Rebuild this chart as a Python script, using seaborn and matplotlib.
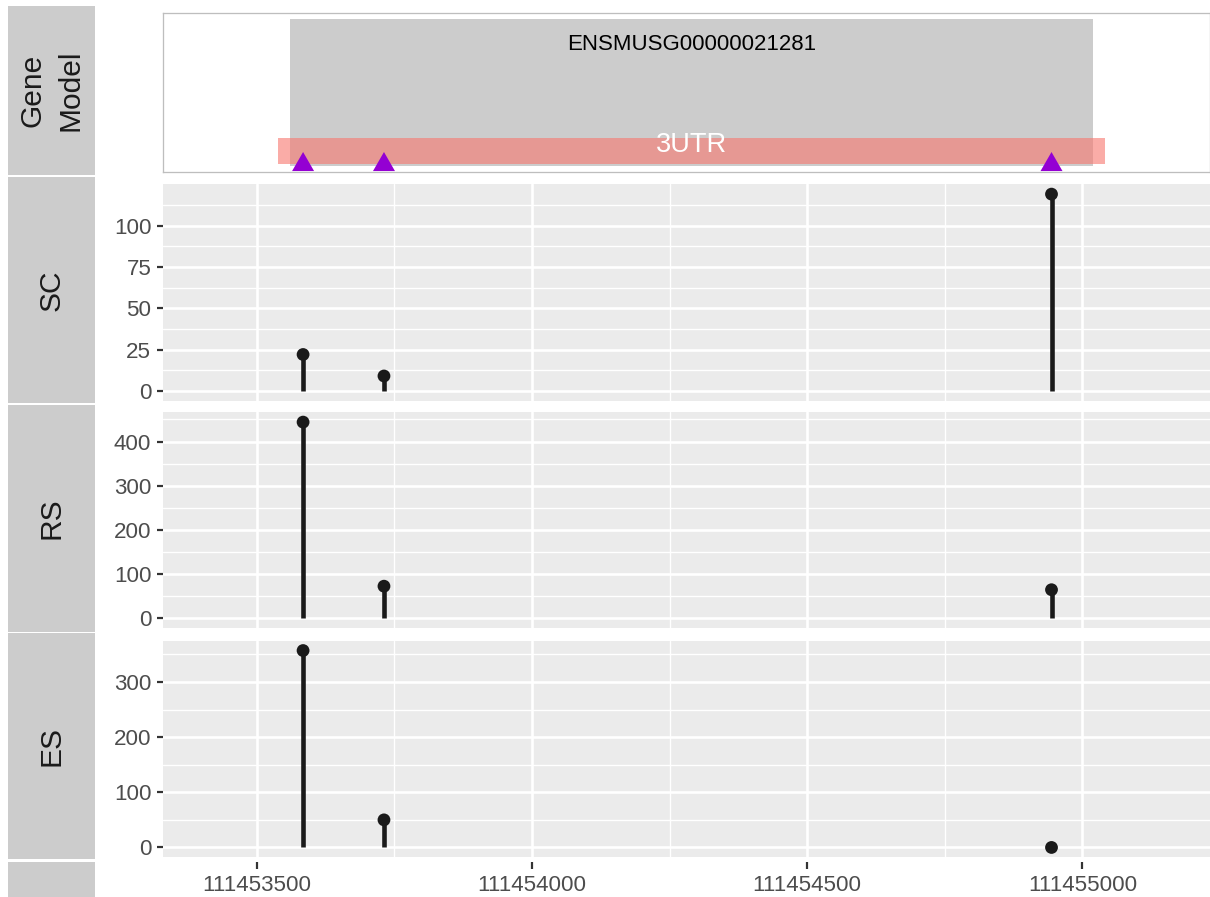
import numpy as np
import pandas as pd
import matplotlib
matplotlib.use("Agg")
import matplotlib.pyplot as plt
from matplotlib.patches import Rectangle
from matplotlib.ticker import MultipleLocator, FixedLocator
import seaborn as sns

# ---- data ----
positions = [111453584, 111453731, 111454944]
samples = ["SC", "RS", "ES"]
sc_counts = [22, 9, 119]
rs_counts = [444, 73, 65]
es_counts = [357, 50, 0]
counts = {"SC": sc_counts, "RS": rs_counts, "ES": es_counts}
y_major = {"SC": 25, "RS": 100, "ES": 100}

gene_id = "ENSMUSG00000021281"
gene_start, gene_end = 111453560, 111455020
utr_label = "3UTR"
utr_start, utr_end = 111453539, 111455042

x_ticks = [111453500, 111454000, 111454500, 111455000]
x_range = (111453330, 111455232)

# ---- style ----
sns.set_theme(style="darkgrid")
plt.rcParams["font.family"] = ["Liberation Sans", "DejaVu Sans"]

W, H = 1210, 897
DPI = 100
fig = plt.figure(figsize=(W / DPI, H / DPI), dpi=DPI)
fig.patch.set_facecolor("white")

PT = 72 / DPI  # points per pixel
TICK_FS = 16.1


def box(x0, y0, x1, y1):
    return [x0 / W, 1 - y1 / H, (x1 - x0) / W, (y1 - y0) / H]


PX0, PX1 = 163.3, 1210
panel_rows = {
    "SC": (184.3, 400.7),
    "RS": (412.3, 628.3),
    "ES": (640.7, 857.3),
}
strip_rows = [
    ("Gene\nModel", 6, 175),
    ("SC", 176.7, 403.3),
    ("RS", 405, 631.7),
    ("ES", 633.3, 859.3),
    ("", 861.7, 900),
]

STRIP_COL = "#CCCCCC"
TEXT_DARK = "#1A1A1A"
TICK_TEXT = "#4D4D4D"

# strips on the left
for label, y0, y1 in strip_rows:
    fig.patches.append(Rectangle((8 / W, 1 - y1 / H), (95 - 8) / W, (y1 - y0) / H,
                                 transform=fig.transFigure, facecolor=STRIP_COL,
                                 edgecolor="none", zorder=0))
    if label:
        fig.text(51.5 / W, 1 - (y0 + y1) / 2 / H, label, rotation=90,
                 ha="center", va="center", fontsize=21.5, color=TEXT_DARK,
                 linespacing=1.48, multialignment="center")

# ---- gene model track ----
ax_g = fig.add_axes(box(PX0, 13.5, PX1, 172))
ax_g.set_facecolor("white")
ax_g.grid(False)
ax_g.set_xlim(*x_range)
ax_g.set_ylim(0, 1)
for s in ax_g.spines.values():
    s.set_visible(True)
    s.set_color("#BEBEBE")
    s.set_linewidth(1.3 * PT)
ax_g.set_xticks([])
ax_g.set_yticks([])
ax_g.add_patch(Rectangle((gene_start, 0.038), gene_end - gene_start, 0.927,
                         facecolor="#CCCCCC", edgecolor="none", zorder=1))
ax_g.add_patch(Rectangle((utr_start, 0.05), utr_end - utr_start, 0.166,
                         facecolor="#F8766D", alpha=0.6, edgecolor="none", zorder=2))
ax_g.text((gene_start + gene_end) / 2, 0.805, gene_id, ha="center", va="center",
          fontsize=16.0, color="black", zorder=4)
ax_g.text((utr_start + utr_end) / 2, 0.172, utr_label, ha="center", va="center",
          fontsize=19.5, color="white", zorder=4)
tri = [(-1, -0.866), (1, -0.866), (0, 0.866)]
site_df = pd.DataFrame({"pos": positions, "y": [0.066] * len(positions)})
sns.scatterplot(data=site_df, x="pos", y="y", ax=ax_g, marker=tri,
                s=(22 * PT) ** 2, color="#9400D3", edgecolor="none",
                linewidth=0, zorder=5, legend=False)
ax_g.set_xlabel("")
ax_g.set_ylabel("")

# ---- count tracks ----
for name in samples:
    y0, y1 = panel_rows[name]
    ax = fig.add_axes(box(PX0, y0, PX1, y1))
    vals = counts[name]
    df = pd.DataFrame({"pos": positions, "count": vals})
    span = max(vals) - 0
    ax.set_facecolor("#EBEBEB")
    ax.set_xlim(*x_range)
    for s in ax.spines.values():
        s.set_visible(False)

    ax.xaxis.set_major_locator(FixedLocator(x_ticks))
    ax.xaxis.set_minor_locator(FixedLocator([111453750, 111454250, 111454750]))
    ax.yaxis.set_major_locator(MultipleLocator(y_major[name]))
    ax.yaxis.set_minor_locator(MultipleLocator(y_major[name] / 2))
    ax.grid(True, which="major", color="white", linewidth=2.6 * PT)
    ax.grid(True, which="minor", color="white", linewidth=1.4 * PT)
    ax.set_axisbelow(True)

    ax.vlines(df["pos"], 0, df["count"], color=TEXT_DARK, linewidth=4.6 * PT, zorder=3)
    sns.scatterplot(data=df, x="pos", y="count", ax=ax, color=TEXT_DARK,
                    s=(12.8 * PT) ** 2, edgecolor="none", linewidth=0,
                    zorder=4, legend=False)
    ax.set_xlabel("")
    ax.set_ylabel("")
    ax.tick_params(axis="x", which="both", bottom=False, labelbottom=False)
    ax.tick_params(axis="y", which="major", left=True, length=6 * PT,
                   width=2.2 * PT, color="#333333", pad=6 * PT,
                   labelsize=TICK_FS, labelcolor=TICK_TEXT)
    ax.tick_params(axis="y", which="minor", left=False)
    ax.set_ylim(-0.05 * span, max(vals) + 0.05 * span)

# ---- shared x axis ----
ax_x = fig.add_axes(box(PX0, 861.7, PX1, 861.8))
ax_x.set_facecolor("none")
ax_x.grid(False)
for s in ax_x.spines.values():
    s.set_visible(False)
ax_x.set_xlim(*x_range)
ax_x.set_yticks([])
ax_x.set_xticks(x_ticks)
ax_x.set_xticklabels([str(v) for v in x_ticks])
ax_x.tick_params(axis="x", bottom=True, length=6.6 * PT, width=2.2 * PT,
                 color="#333333", pad=6.5 * PT, labelsize=TICK_FS,
                 labelcolor=TICK_TEXT, direction="out")

fig.savefig("out.png", dpi=DPI, facecolor="white")
